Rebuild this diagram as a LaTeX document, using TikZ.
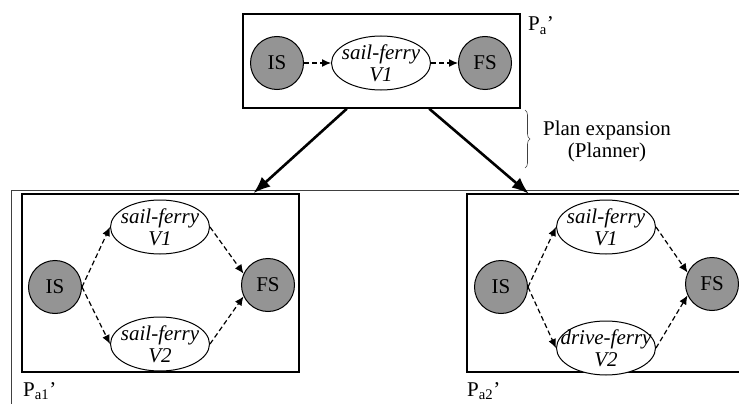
\documentclass[tikz,border=0pt]{standalone}
\usepackage{fontspec}
\setmainfont{Liberation Serif}
\usetikzlibrary{arrows.meta,shapes.geometric,decorations.pathreplacing}

\begin{document}
\begin{tikzpicture}[x=1pt,y=-1pt,
    font=\fontsize{21}{22}\selectfont,
    state/.style={circle, draw, line width=1pt, fill=black!42, minimum size=53pt, inner sep=0pt},
    act/.style={ellipse, draw, line width=1pt, fill=white, minimum width=99pt, minimum height=54pt,
        inner sep=-20pt, align=center, font=\fontsize{21}{22}\selectfont\itshape},
    planbox/.style={draw, line width=1.5pt, inner sep=0pt},
    lbl/.style={anchor=base west, inner sep=0pt},
    dasharrow/.style={line width=1.2pt, dash pattern=on 5pt off 3pt, -{Latex[length=9pt,width=8pt]}},
    expand/.style={line width=2.6pt, -{Latex[length=17pt,width=13pt]}}]
    \useasboundingbox (0,0) rectangle (739,404);
    \clip (0,0) rectangle (739,404);

    % Frame of the expanded plans
    \draw[line width=0.8pt, black!75] (11,404) -- (11,190.5) -- (739,190.5);

    % Plan boxes
    \node[planbox, minimum width=277pt, minimum height=94pt] (pa) at (381.5,61) {};
    \node[planbox, minimum width=277pt, minimum height=178pt] (pa1) at (160.5,283) {};
    \node[minimum width=290pt, minimum height=178pt, inner sep=0pt] (pa2) at (612,283) {};
    \draw[line width=1.5pt] (pa2.north east) -- (pa2.north west) -- (pa2.south west) -- (pa2.south east);

    % Plan P_a'
    \node[state] (is) at (277,63) {IS};
    \node[act] (sf) at (381,63) {sail-ferry\\V1};
    \node[state] (fs) at (485,63) {FS};
    \draw[dasharrow] (is) -- (sf);
    \draw[dasharrow] (sf) -- (fs);
    \node[lbl] (lpa) at (528,31) {P\textsubscript{a}’};

    % Plan P_a1'
    \node[state] (is1) at (55,287) {IS};
    \node[act] (v11) at (160,227) {sail-ferry\\V1};
    \node[act] (v21) at (160,344) {sail-ferry\\V2};
    \node[state] (fs1) at (268,285) {FS};
    \draw[dasharrow] (is1.east) -- (v11.west);
    \draw[dasharrow] (is1.east) -- (v21.west);
    \draw[dasharrow] (v11.east) -- (fs1.155);
    \draw[dasharrow] (v21.east) -- (fs1.205);
    \node[lbl] (lpa1) at (23,396) {P\textsubscript{a1}’};

    % Plan P_a2'
    \node[state] (is2) at (501,287) {IS};
    \node[act] (v12) at (606,227) {sail-ferry\\V1};
    \node[act] (v22) at (606,348) {drive-ferry\\V2};
    \node[state] (fs2) at (712,284) {FS};
    \draw[dasharrow] (is2.east) -- (v12.west);
    \draw[dasharrow] (is2.east) -- (v22.west);
    \draw[dasharrow] (v12.east) -- (fs2.155);
    \draw[dasharrow] (v22.east) -- (fs2.205);
    \node[lbl] (lpa2) at (467,396) {P\textsubscript{a2}’};

    % Expansion
    \draw[expand] (pa.234.5) -- (pa1.44.5);
    \draw[expand] (pa.315.9) -- (pa2.133.7);
    \draw[decorate, decoration={brace, amplitude=5pt}, line width=0.6pt, black!75] (525,110) -- (525,168);
    \node[align=center] (plan) at (607,141) {Plan expansion\\(Planner)};
\end{tikzpicture}
\end{document}
